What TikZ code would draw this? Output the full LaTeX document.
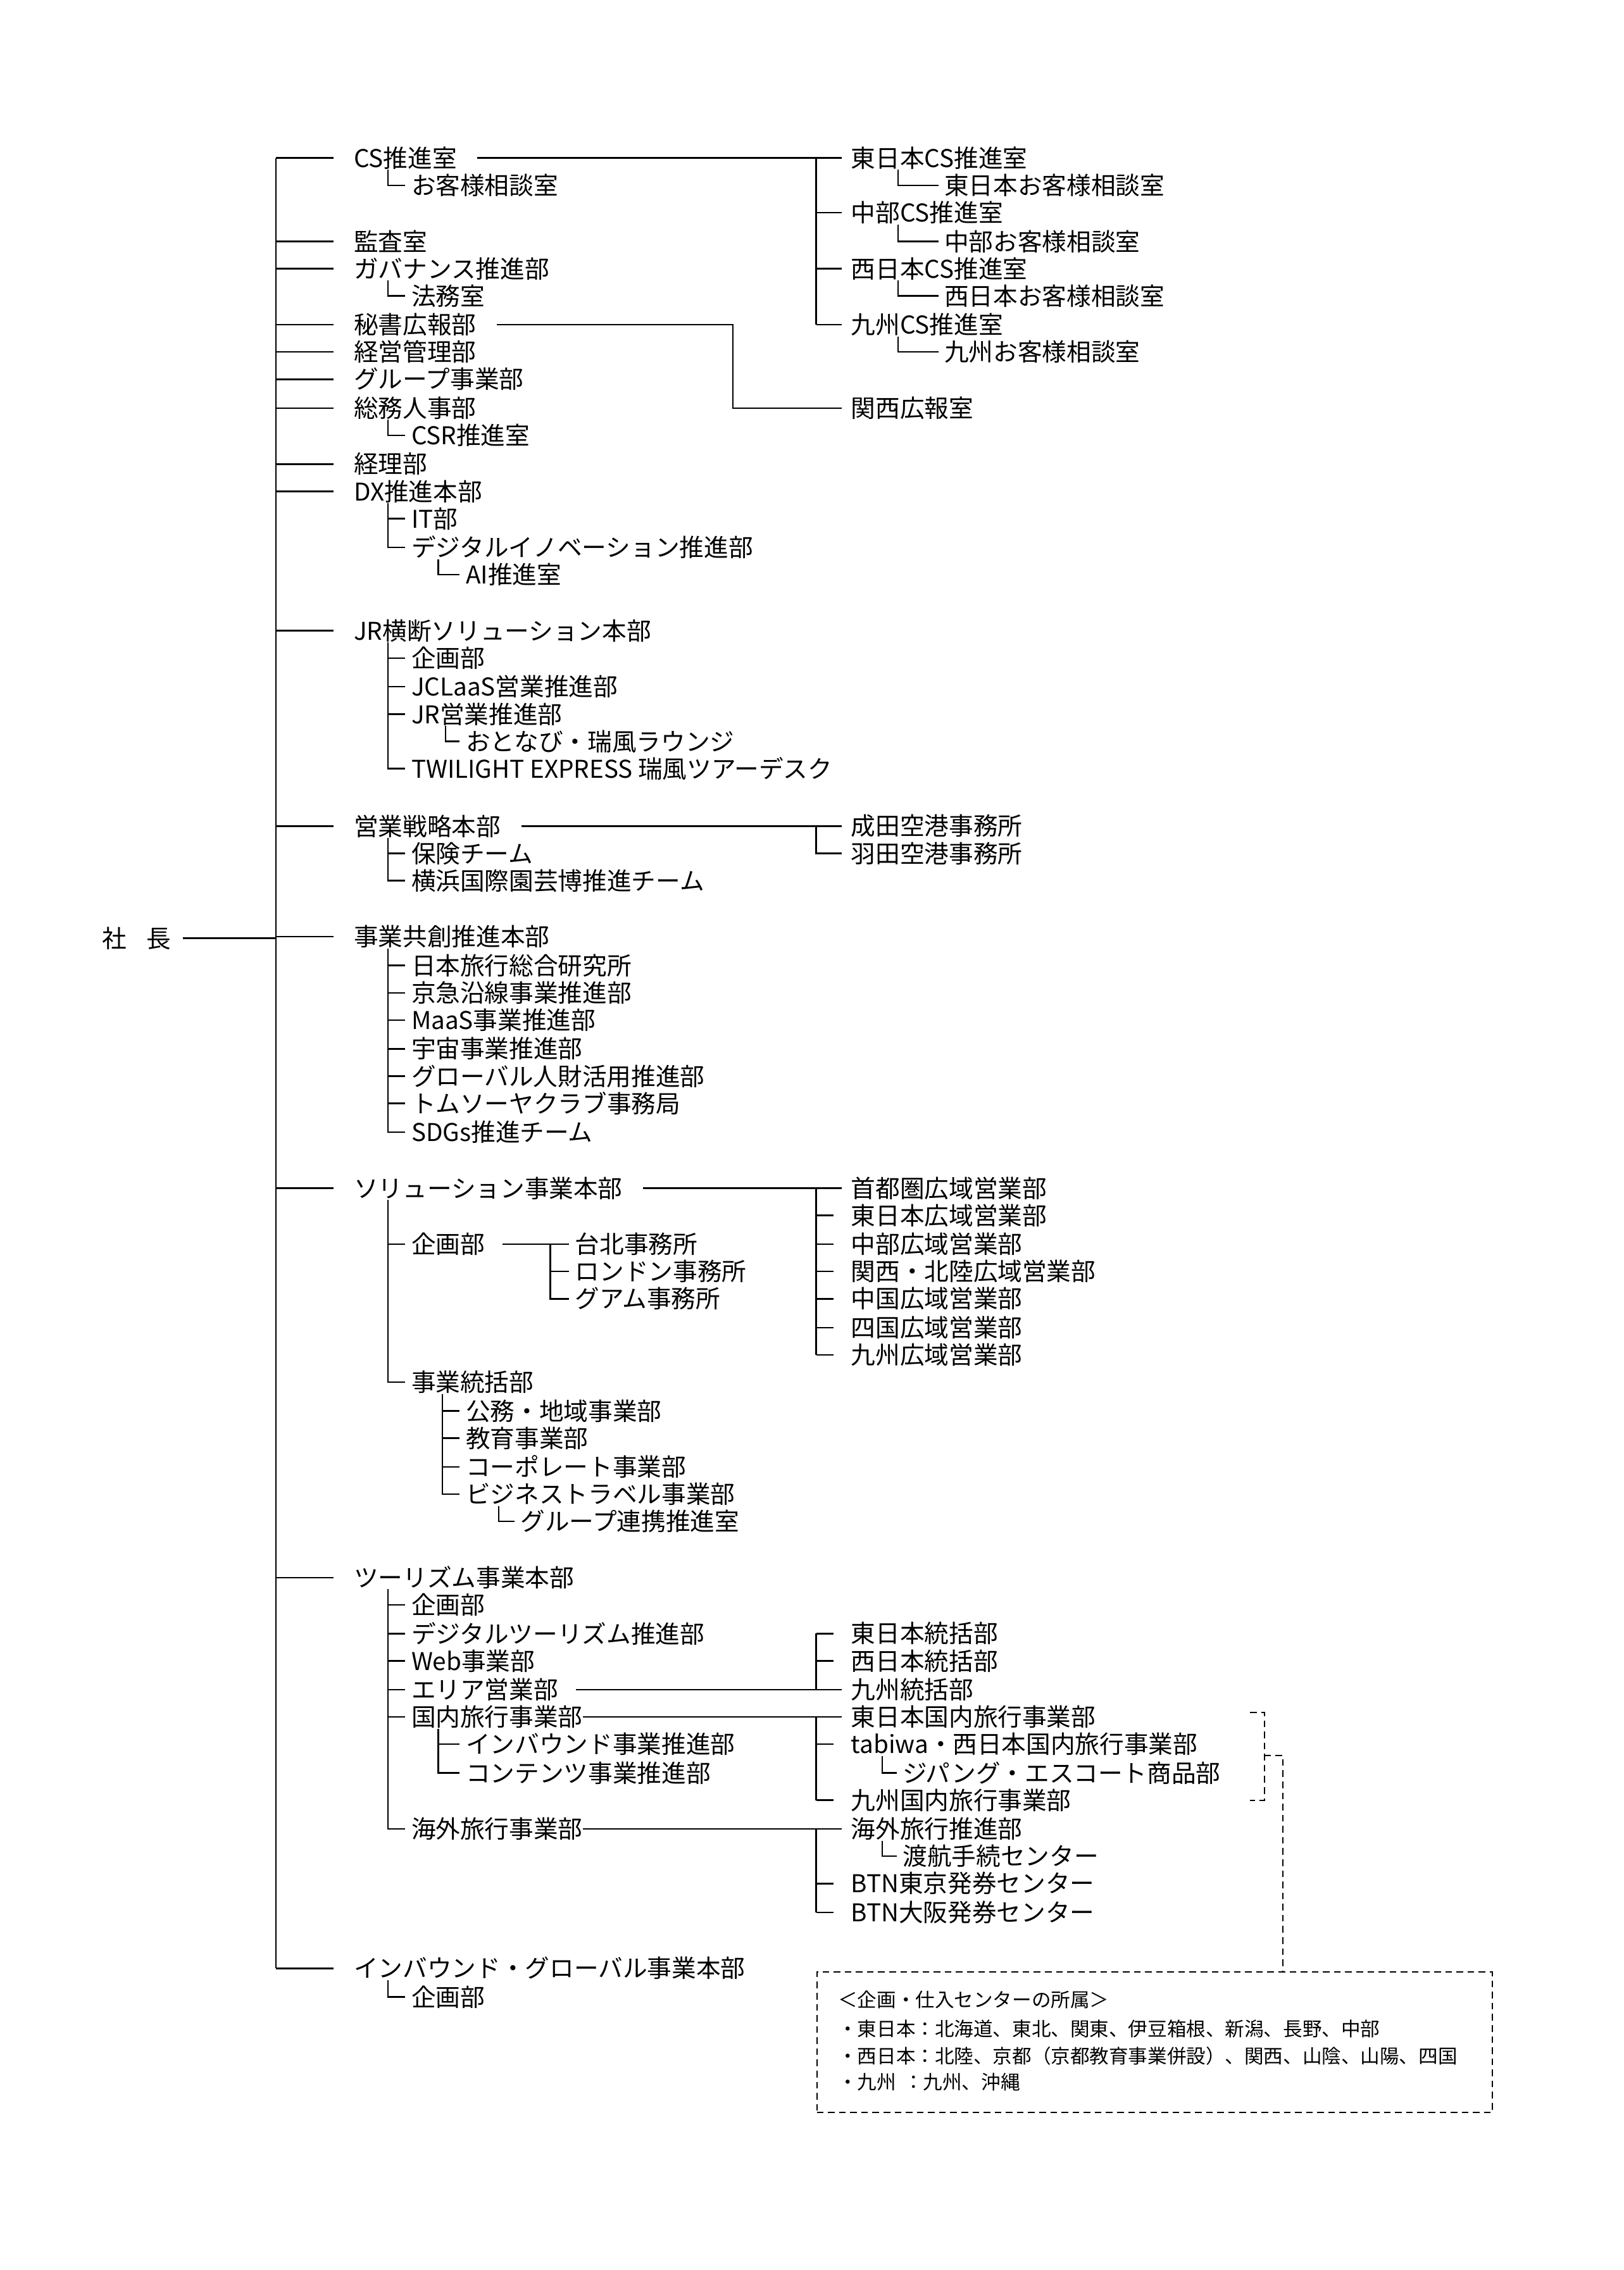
\documentclass[tikz,border=0pt]{standalone}
\usepackage{fontspec}
\setmainfont{Noto Sans CJK JP}
\usetikzlibrary{calc}

\tikzset{
  item/.style={anchor=west, inner sep=0pt, font=\fontsize{11}{13}\selectfont},
  note/.style={anchor=west, inner sep=0pt, font=\fontsize{8.7}{10}\selectfont},
  line/.style={line width=0.7pt},
  dline/.style={line width=0.6pt, dash pattern=on 3pt off 2pt}
}
% parent, child, offset of the vertical
\newcommand\sublink[3]{\draw[line] ($(#1.south west)+(#3,0)$) |- ($(#2.west)+(-4,0)$);}

\begin{document}
\begin{tikzpicture}[x=0.02271cm, y=-0.02271cm]
\useasboundingbox (0,0) rectangle (1130,1580);

% president and trunk
\node[item, anchor=center] (shacho) at (95,653) {社\hspace{0.8em}長};
\coordinate (trunk) at (192,110);
\draw[line] (trunk) -- (192,1370);
\draw[line] ($(shacho.east)+(8,0)$) -- (trunk |- shacho.east);

% top level
\node[item] (cs) at (246,110) {CS推進室};
\node[item] (kansa) at (246,168) {監査室};
\node[item] (gov) at (246,187) {ガバナンス推進部};
\node[item] (hisho) at (246,226) {秘書広報部};
\node[item] (keiei) at (246,245) {経営管理部};
\node[item] (group) at (246,264) {グループ事業部};
\node[item] (somu) at (246,284) {総務人事部};
\node[item] (keiri) at (246,323) {経理部};
\node[item] (dx) at (246,342) {DX推進本部};
\node[item] (jr) at (246,439) {JR横断ソリューション本部};
\node[item] (eigyo) at (246,575) {営業戦略本部};
\node[item] (kyoso) at (246,652) {事業共創推進本部};
\node[item] (sol) at (246,827) {ソリューション事業本部};
\node[item] (tour) at (246,1098) {ツーリズム事業本部};
\node[item] (inb) at (246,1370) {インバウンド・グローバル事業本部};
\foreach \n in {cs,kansa,gov,hisho,keiei,group,somu,keiri,dx,jr,eigyo,kyoso,sol,tour,inb}
  \draw[line] (trunk |- \n.west) -- ($(\n.west)+(-14,0)$);

% second level
\node[item] (okyaku) at (286,129) {お客様相談室};
\node[item] (homu) at (286,206) {法務室};
\node[item] (csr) at (286,303) {CSR推進室};
\sublink{cs}{okyaku}{24}
\sublink{gov}{homu}{24}
\sublink{somu}{csr}{24}

\node[item] (it) at (286,361) {IT部};
\node[item] (dinno) at (286,381) {デジタルイノベーション推進部};
\node[item] (ai) at (324,400) {AI推進室};
\sublink{dx}{it}{24}
\sublink{dx}{dinno}{24}
\sublink{dinno}{ai}{19}

\node[item] (jrkikaku) at (286,458) {企画部};
\node[item] (jclaas) at (286,478) {JCLaaS営業推進部};
\node[item] (jreigyo) at (286,497) {JR営業推進部};
\node[item] (otonabi) at (324,516) {おとなび・瑞風ラウンジ};
\node[item] (twilight) at (286,535) {TWILIGHT EXPRESS 瑞風ツアーデスク};
\foreach \n in {jrkikaku,jclaas,jreigyo,twilight} {\sublink{jr}{\n}{24}}
\sublink{jreigyo}{otonabi}{24}

\node[item] (hoken) at (286,594) {保険チーム};
\node[item] (yoko) at (286,613) {横浜国際園芸博推進チーム};
\sublink{eigyo}{hoken}{24}
\sublink{eigyo}{yoko}{24}

\node[item] (soken) at (286,672) {日本旅行総合研究所};
\node[item] (keikyu) at (286,691) {京急沿線事業推進部};
\node[item] (maas) at (286,710) {MaaS事業推進部};
\node[item] (uchu) at (286,730) {宇宙事業推進部};
\node[item] (jinzai) at (286,749) {グローバル人財活用推進部};
\node[item] (tom) at (286,768) {トムソーヤクラブ事務局};
\node[item] (sdgs) at (286,788) {SDGs推進チーム};
\foreach \n in {soken,keikyu,maas,uchu,jinzai,tom,sdgs} {\sublink{kyoso}{\n}{24}}

\node[item] (solkikaku) at (286,866) {企画部};
\node[item] (toukatsu) at (286,962) {事業統括部};
\sublink{sol}{solkikaku}{24}
\sublink{sol}{toukatsu}{24}
\node[item] (taipei) at (400,866) {台北事務所};
\node[item] (london) at (400,885) {ロンドン事務所};
\node[item] (guam) at (400,904) {グアム事務所};
\draw[line] ($(solkikaku.east)+(12,0)$) -- ($(taipei.west)+(-4,0)$);
\draw[line] ($(taipei.west)+(-17,0)$) |- ($(guam.west)+(-4,0)$);
\draw[line] ($(london.west)+(-17,0)$) -- ($(london.west)+(-4,0)$);
\node[item] (komu) at (324,982) {公務・地域事業部};
\node[item] (kyoiku) at (324,1001) {教育事業部};
\node[item] (corp) at (324,1021) {コーポレート事業部};
\node[item] (biz) at (324,1040) {ビジネストラベル事業部};
\node[item] (renkei) at (362,1059) {グループ連携推進室};
\foreach \n in {komu,kyoiku,corp,biz} {\sublink{toukatsu}{\n}{22}}
\sublink{biz}{renkei}{23}

\node[item] (tkikaku) at (286,1117) {企画部};
\node[item] (dtour) at (286,1137) {デジタルツーリズム推進部};
\node[item] (web) at (286,1156) {Web事業部};
\node[item] (area) at (286,1176) {エリア営業部};
\node[item] (kokunai) at (286,1195) {国内旅行事業部};
\node[item] (kaigai) at (286,1273) {海外旅行事業部};
\foreach \n in {tkikaku,dtour,web,area,kokunai,kaigai} {\sublink{tour}{\n}{24}}
\node[item] (inbsui) at (324,1214) {インバウンド事業推進部};
\node[item] (content) at (324,1234) {コンテンツ事業推進部};
\sublink{kokunai}{inbsui}{19}
\sublink{kokunai}{content}{19}

\node[item] (ikikaku) at (286,1390) {企画部};
\sublink{inb}{ikikaku}{24}

% right side: CS
\coordinate (bus) at (568,0);
\node[item] (ecs) at (592,110) {東日本CS推進室};
\node[item] (eok) at (657,129) {東日本お客様相談室};
\node[item] (ccs) at (592,148) {中部CS推進室};
\node[item] (cok) at (657,168) {中部お客様相談室};
\node[item] (wcs) at (592,187) {西日本CS推進室};
\node[item] (wok) at (657,206) {西日本お客様相談室};
\node[item] (kcs) at (592,226) {九州CS推進室};
\node[item] (kok) at (657,245) {九州お客様相談室};
\draw[line] ($(cs.east)+(14,0)$) -- ($(ecs.west)+(-6,0)$);
\draw[line] (bus |- ecs.west) -- (bus |- kcs.west);
\foreach \n in {ccs,wcs,kcs} \draw[line] (bus |- \n.west) -- ($(\n.west)+(-6,0)$);
\sublink{ecs}{eok}{33}
\sublink{ccs}{cok}{33}
\sublink{wcs}{wok}{33}
\sublink{kcs}{kok}{33}

% right side: kouhou
\node[item] (kansai) at (592,284) {関西広報室};
\draw[line] ($(hisho.east)+(14,0)$) -| (510,284) -- ($(kansai.west)+(-6,0)$);

% right side: airports
\node[item] (narita) at (592,575) {成田空港事務所};
\node[item] (haneda) at (592,594) {羽田空港事務所};
\draw[line] ($(eigyo.east)+(14,0)$) -- ($(narita.west)+(-6,0)$);
\draw[line] (bus |- narita.west) |- ($(haneda.west)+(-6,0)$);

% right side: regional sales
\node[item] (shuto) at (592,827) {首都圏広域営業部};
\node[item] (ekoiki) at (592,846) {東日本広域営業部};
\node[item] (ckoiki) at (592,866) {中部広域営業部};
\node[item] (kkoiki) at (592,885) {関西・北陸広域営業部};
\node[item] (chugoku) at (592,904) {中国広域営業部};
\node[item] (shikoku) at (592,924) {四国広域営業部};
\node[item] (kyukoiki) at (592,943) {九州広域営業部};
\draw[line] ($(sol.east)+(14,0)$) -- ($(shuto.west)+(-6,0)$);
\draw[line] (bus |- shuto.west) -- (bus |- kyukoiki.west);
\foreach \n in {ekoiki,ckoiki,kkoiki,chugoku,shikoku,kyukoiki}
  \draw[line] (bus |- \n.west) -- ($(\n.west)+(-12,0)$);

% right side: tourism
\node[item] (etok) at (592,1137) {東日本統括部};
\node[item] (wtok) at (592,1156) {西日本統括部};
\node[item] (ktok) at (592,1176) {九州統括部};
\draw[line] ($(area.east)+(12,0)$) -- ($(ktok.west)+(-6,0)$);
\draw[line] (bus |- etok.west) -- (bus |- ktok.west);
\foreach \n in {etok,wtok} \draw[line] (bus |- \n.west) -- ($(\n.west)+(-12,0)$);

\node[item] (ekok) at (592,1195) {東日本国内旅行事業部};
\node[item] (tabiwa) at (592,1214) {tabiwa・西日本国内旅行事業部};
\node[item] (zipang) at (628,1234) {ジパング・エスコート商品部};
\node[item] (kkok) at (592,1253) {九州国内旅行事業部};
\draw[line] (kokunai.east) -- ($(ekok.west)+(-6,0)$);
\draw[line] (bus |- ekok.west) -- (bus |- kkok.west);
\foreach \n in {tabiwa,kkok} \draw[line] (bus |- \n.west) -- ($(\n.west)+(-12,0)$);
\sublink{tabiwa}{zipang}{22}

\node[item] (kaisui) at (592,1273) {海外旅行推進部};
\node[item] (toko) at (628,1292) {渡航手続センター};
\node[item] (btnt) at (592,1311) {BTN東京発券センター};
\node[item] (btno) at (592,1331) {BTN大阪発券センター};
\draw[line] (kaigai.east) -- ($(kaisui.west)+(-6,0)$);
\draw[line] (bus |- kaisui.west) -- (bus |- btno.west);
\foreach \n in {btnt,btno} \draw[line] (bus |- \n.west) -- ($(\n.west)+(-12,0)$);
\sublink{kaisui}{toko}{22}

% note box
\node[draw, dline, minimum width=470*0.02271cm, minimum height=98*0.02271cm, anchor=north west, inner sep=0pt] (notebox) at (568,1372) {};
\node[note] at (583,1392) {＜企画・仕入センターの所属＞};
\node[note] at (583,1412) {・東日本：北海道、東北、関東、伊豆箱根、新潟、長野、中部};
\node[note] at (583,1431) {・西日本：北陸、京都（京都教育事業併設）、関西、山陰、山陽、四国};
\node[note] at (583,1449) {・九州\hspace{0.4em}：九州、沖縄};
\draw[dline] (870,1192) -- (880,1192) -- (880,1253) -- (870,1253);
\draw[dline] (880,1222) -- (893,1222) -- (notebox.north -| 893,0);
\end{tikzpicture}
\end{document}
